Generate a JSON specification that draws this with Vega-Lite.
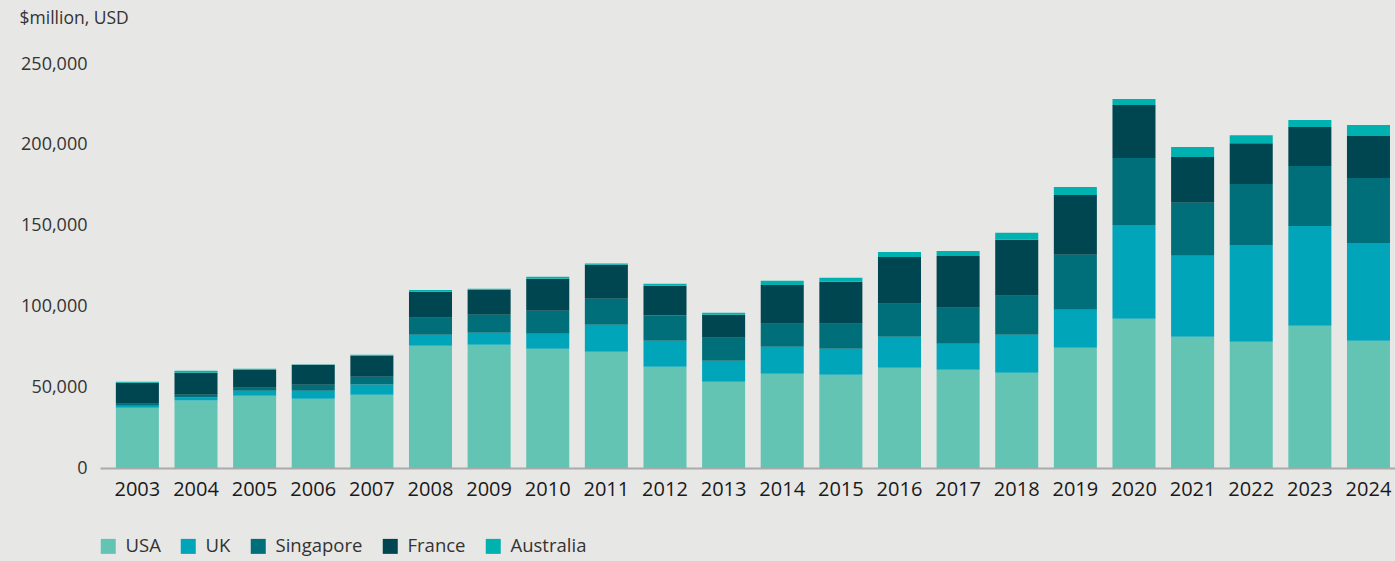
{
  "$schema": "https://vega.github.io/schema/vega-lite/v6.json",
  "width": 1295,
  "height": 404,
  "autosize": {"type": "none"},
  "padding": {"left": 100, "top": 64, "right": 0, "bottom": 93},
  "background": "#e7e7e5",
  "config": {"view": {"stroke": null}, "font": "Open Sans"},
  "data": {"values": [
    {"year": "2003", "country": "USA", "value": 37300}, {"year": "2003", "country": "UK", "value": 1200}, {"year": "2003", "country": "Singapore", "value": 1200}, {"year": "2003", "country": "France", "value": 13000}, {"year": "2003", "country": "Australia", "value": 600},
    {"year": "2004", "country": "USA", "value": 41700}, {"year": "2004", "country": "UK", "value": 1850}, {"year": "2004", "country": "Singapore", "value": 1850}, {"year": "2004", "country": "France", "value": 13600}, {"year": "2004", "country": "Australia", "value": 1200},
    {"year": "2005", "country": "USA", "value": 44700}, {"year": "2005", "country": "UK", "value": 3100}, {"year": "2005", "country": "Singapore", "value": 1850}, {"year": "2005", "country": "France", "value": 11100}, {"year": "2005", "country": "Australia", "value": 600},
    {"year": "2006", "country": "USA", "value": 42900}, {"year": "2006", "country": "UK", "value": 4900}, {"year": "2006", "country": "Singapore", "value": 3700}, {"year": "2006", "country": "France", "value": 12400}, {"year": "2006", "country": "Australia", "value": 200},
    {"year": "2007", "country": "USA", "value": 45400}, {"year": "2007", "country": "UK", "value": 6200}, {"year": "2007", "country": "Singapore", "value": 4900}, {"year": "2007", "country": "France", "value": 13000}, {"year": "2007", "country": "Australia", "value": 600},
    {"year": "2008", "country": "USA", "value": 75600}, {"year": "2008", "country": "UK", "value": 6800}, {"year": "2008", "country": "Singapore", "value": 10500}, {"year": "2008", "country": "France", "value": 16100}, {"year": "2008", "country": "Australia", "value": 1200},
    {"year": "2009", "country": "USA", "value": 76300}, {"year": "2009", "country": "UK", "value": 7400}, {"year": "2009", "country": "Singapore", "value": 11100}, {"year": "2009", "country": "France", "value": 15500}, {"year": "2009", "country": "Australia", "value": 600},
    {"year": "2010", "country": "USA", "value": 73800}, {"year": "2010", "country": "UK", "value": 9300}, {"year": "2010", "country": "Singapore", "value": 14200}, {"year": "2010", "country": "France", "value": 19800}, {"year": "2010", "country": "Australia", "value": 1200},
    {"year": "2011", "country": "USA", "value": 71900}, {"year": "2011", "country": "UK", "value": 16700}, {"year": "2011", "country": "Singapore", "value": 16100}, {"year": "2011", "country": "France", "value": 21000}, {"year": "2011", "country": "Australia", "value": 900},
    {"year": "2012", "country": "USA", "value": 62700}, {"year": "2012", "country": "UK", "value": 16100}, {"year": "2012", "country": "Singapore", "value": 15500}, {"year": "2012", "country": "France", "value": 18500}, {"year": "2012", "country": "Australia", "value": 1200},
    {"year": "2013", "country": "USA", "value": 53400}, {"year": "2013", "country": "UK", "value": 13000}, {"year": "2013", "country": "Singapore", "value": 14200}, {"year": "2013", "country": "France", "value": 14200}, {"year": "2013", "country": "Australia", "value": 1200},
    {"year": "2014", "country": "USA", "value": 58300}, {"year": "2014", "country": "UK", "value": 16700}, {"year": "2014", "country": "Singapore", "value": 14200}, {"year": "2014", "country": "France", "value": 24100}, {"year": "2014", "country": "Australia", "value": 2500},
    {"year": "2015", "country": "USA", "value": 57700}, {"year": "2015", "country": "UK", "value": 16100}, {"year": "2015", "country": "Singapore", "value": 15500}, {"year": "2015", "country": "France", "value": 26000}, {"year": "2015", "country": "Australia", "value": 2500},
    {"year": "2016", "country": "USA", "value": 62000}, {"year": "2016", "country": "UK", "value": 19200}, {"year": "2016", "country": "Singapore", "value": 20400}, {"year": "2016", "country": "France", "value": 29000}, {"year": "2016", "country": "Australia", "value": 3100},
    {"year": "2017", "country": "USA", "value": 60800}, {"year": "2017", "country": "UK", "value": 16100}, {"year": "2017", "country": "Singapore", "value": 22200}, {"year": "2017", "country": "France", "value": 32100}, {"year": "2017", "country": "Australia", "value": 3100},
    {"year": "2018", "country": "USA", "value": 59000}, {"year": "2018", "country": "UK", "value": 23500}, {"year": "2018", "country": "Singapore", "value": 24100}, {"year": "2018", "country": "France", "value": 34600}, {"year": "2018", "country": "Australia", "value": 4300},
    {"year": "2019", "country": "USA", "value": 74400}, {"year": "2019", "country": "UK", "value": 23500}, {"year": "2019", "country": "Singapore", "value": 34000}, {"year": "2019", "country": "France", "value": 37100}, {"year": "2019", "country": "Australia", "value": 4900},
    {"year": "2020", "country": "USA", "value": 92300}, {"year": "2020", "country": "UK", "value": 58100}, {"year": "2020", "country": "Singapore", "value": 41400}, {"year": "2020", "country": "France", "value": 32800}, {"year": "2020", "country": "Australia", "value": 3700},
    {"year": "2021", "country": "USA", "value": 81200}, {"year": "2021", "country": "UK", "value": 50100}, {"year": "2021", "country": "Singapore", "value": 32800}, {"year": "2021", "country": "France", "value": 28400}, {"year": "2021", "country": "Australia", "value": 6200},
    {"year": "2022", "country": "USA", "value": 78100}, {"year": "2022", "country": "UK", "value": 59900}, {"year": "2022", "country": "Singapore", "value": 37700}, {"year": "2022", "country": "France", "value": 25300}, {"year": "2022", "country": "Australia", "value": 4900},
    {"year": "2023", "country": "USA", "value": 88000}, {"year": "2023", "country": "UK", "value": 61800}, {"year": "2023", "country": "Singapore", "value": 37100}, {"year": "2023", "country": "France", "value": 24100}, {"year": "2023", "country": "Australia", "value": 4300},
    {"year": "2024", "country": "USA", "value": 78700}, {"year": "2024", "country": "UK", "value": 60600}, {"year": "2024", "country": "Singapore", "value": 40200}, {"year": "2024", "country": "France", "value": 26000}, {"year": "2024", "country": "Australia", "value": 6800}
  ]},
  "mark": {"type": "bar"},
  "encoding": {
    "x": {
      "field": "year", "type": "ordinal",
      "scale": {"paddingInner": 0.266, "paddingOuter": 0.178, "align": 0.76},
      "axis": {"title": null, "labelAngle": 0, "labelFontSize": 20, "labelColor": "#1a1a1a", "ticks": false, "domainColor": "#aaaaaa", "domainWidth": 2, "labelPadding": 11}
    },
    "y": {
      "field": "value", "type": "quantitative", "stack": "zero",
      "scale": {"domain": [0, 250000], "nice": false},
      "axis": {"values": [0, 50000, 100000, 150000, 200000, 250000], "format": ",.0f", "grid": false, "domain": false, "ticks": false, "labelFontSize": 18, "labelColor": "#333333", "labelPadding": 13,
        "title": "$million, USD", "titleAngle": 0, "titleAlign": "left", "titleBaseline": "middle", "titleX": -81, "titleY": -46, "titleFontSize": 17.5, "titleFontWeight": "normal", "titleColor": "#333333"}
    },
    "color": {
      "field": "country", "type": "nominal",
      "sort": ["USA", "UK", "Singapore", "France", "Australia"],
      "scale": {"domain": ["USA", "UK", "Singapore", "France", "Australia"], "range": ["#64c4b4", "#00a5ba", "#006f79", "#004651", "#00b2af"]},
      "legend": {"orient": "none", "legendX": -1, "legendY": 473, "direction": "horizontal", "title": null, "symbolType": "square", "symbolSize": 225, "symbolStrokeWidth": 0, "symbolOpacity": 1, "labelFontSize": 18.5, "labelColor": "#333333", "labelOffset": 8, "columnPadding": 18, "padding": 0}
    }
  }
}
